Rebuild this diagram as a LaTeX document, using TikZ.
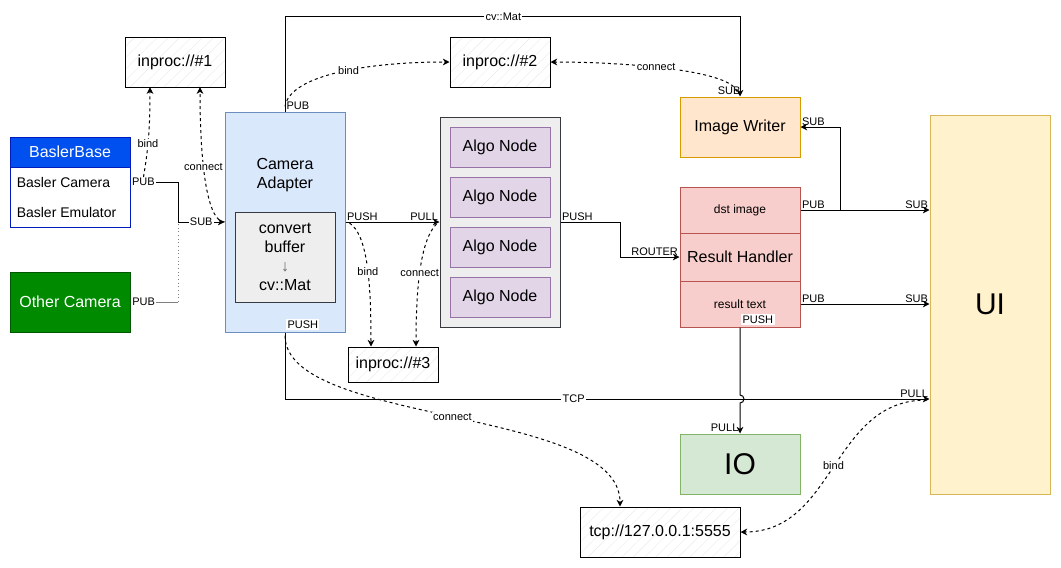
\documentclass[tikz,border=0pt]{standalone}
\usepackage{fontspec}
\setmainfont{Liberation Sans}
\usetikzlibrary{arrows.meta,calc,patterns.meta}

\definecolor{baslerfill}{HTML}{0050EF}
\definecolor{baslerline}{HTML}{001DBC}
\definecolor{otherfill}{HTML}{008A00}
\definecolor{otherline}{HTML}{005700}
\definecolor{adapterfill}{HTML}{DAE8FC}
\definecolor{adapterline}{HTML}{6C8EBF}
\definecolor{convfill}{HTML}{EEEEEE}
\definecolor{convline}{HTML}{36393D}
\definecolor{algofill}{HTML}{E1D5E7}
\definecolor{algoline}{HTML}{9673A6}
\definecolor{writerfill}{HTML}{FFE6CC}
\definecolor{writerline}{HTML}{D79B00}
\definecolor{resfill}{HTML}{F8CECC}
\definecolor{resline}{HTML}{B85450}
\definecolor{uifill}{HTML}{FFF2CC}
\definecolor{uiline}{HTML}{D6B656}
\definecolor{iofill}{HTML}{D5E8D4}
\definecolor{ioline}{HTML}{82B366}

\tikzset{
  box/.style={draw, line width=0.75pt, inner sep=0pt, align=center, font=\fontsize{12}{14.4}\selectfont},
  bigbox/.style={box, font=\fontsize{22.5}{27}\selectfont},
  smallbox/.style={box, font=\fontsize{9}{11}\selectfont},
  item/.style={inner sep=0pt, font=\fontsize{10.5}{12.6}\selectfont},
  inproc/.style={box, preaction={fill=white}, pattern={Lines[angle=45,distance=6pt,line width=0.3pt]}, pattern color=black!8},
  lbl/.style={inner sep=1pt, font=\fontsize{8.25}{9.9}\selectfont},
  onlbl/.style={lbl, fill=white},
  link/.style={line width=0.75pt},
  wire/.style={link, -{Stealth[length=5pt,width=5pt,inset=1.5pt]}},
  zmq/.style={line width=0.75pt, dashed, dash pattern=on 2.25pt off 2.25pt, -{Stealth[length=5pt,width=5pt,inset=1.5pt]}},
}

\begin{document}
\begin{tikzpicture}[x=0.75pt,y=0.75pt,yscale=-1,xscale=1]
\useasboundingbox (0,0) rectangle (1061,568);

%Cameras
\node[box, fill=white, draw=baslerline, minimum width=90pt, minimum height=45pt] (baslerlist) at (70,197) {};
\node[box, fill=baslerfill, draw=baslerline, text=white, minimum width=90pt, minimum height=22.5pt] (basler) at (70,152) {BaslerBase};
\node[item, anchor=west] (baslercam) at (16.5,182) {Basler Camera};
\node[item, anchor=west] (basleremu) at (16.5,212) {Basler Emulator};
\node[box, fill=otherfill, draw=otherline, text=white, minimum width=90pt, minimum height=45pt] (other) at (70,302) {Other Camera};

%Endpoints
\node[inproc, minimum width=75pt, minimum height=37.5pt] (inproc1) at (175,62) {inproc://\#1};
\node[inproc, minimum width=75pt, minimum height=37.5pt] (inproc2) at (500,62) {inproc://\#2};
\node[inproc, minimum width=67.5pt, minimum height=26.25pt] (inproc3) at (393,364.5) {inproc://\#3};
\node[inproc, minimum width=120pt, minimum height=37.5pt] (tcp) at (660,532) {tcp://127.0.0.1:5555};

%Camera Adapter
\node[box, fill=adapterfill, draw=adapterline, minimum width=90pt, minimum height=165pt] (adapter) at (285,222) {};
\node[box, draw=none] (adapterlbl) at (285,175) {Camera\\Adapter};
\node[box, fill=convfill, draw=convline, minimum width=75pt, minimum height=67.5pt] (convert) at (285,257) {convert\\buffer\\{\color{black!60}↓}\\cv::Mat};

%Algo Nodes
\node[box, fill=convfill, draw=convline, minimum width=90pt, minimum height=157.5pt] (algos) at (500,222) {};
\foreach \i/\y in {1/147,2/197,3/247,4/297}
  \node[box, fill=algofill, draw=algoline, minimum width=75pt, minimum height=30pt] (algo\i) at (500,\y) {Algo Node};

%Writer, Result Handler, IO, UI
\node[box, fill=writerfill, draw=writerline, minimum width=90pt, minimum height=45pt] (writer) at (740,127) {Image Writer};
\node[smallbox, fill=resfill, draw=resline, minimum width=90pt, minimum height=34.5pt] (dst) at (740,210) {dst image};
\node[box, fill=resfill, draw=resline, minimum width=90pt, minimum height=36pt] (handler) at (740,257) {Result Handler};
\node[smallbox, fill=resfill, draw=resline, minimum width=90pt, minimum height=34.5pt] (rtext) at (740,304) {result text};
\node[bigbox, fill=iofill, draw=ioline, minimum width=90pt, minimum height=45pt] (io) at (740,464) {IO};
\node[bigbox, fill=uifill, draw=uiline, minimum width=90pt, minimum height=284.25pt] (ui) at (990,304.5) {UI};

%Cameras -> Adapter
\coordinate (camjoin) at (178,222);
\draw[link, gray] (other.east) -- (camjoin |- other.east) node[pos=0, onlbl, anchor=west, text=black] {PUB};
\draw[link, gray, dotted] (camjoin |- other.east) -- (camjoin);
\draw[wire] (baslerlist.east |- baslercam) -| (camjoin) -- node[onlbl] {SUB} (adapter.west);
\node[onlbl, anchor=west] (baslerpub) at (baslerlist.east |- baslercam) {PUB};
\draw[zmq] ($(baslerlist.east |- baslercam)+(13,-5)$) .. controls +(5,-30) and +(0,40) .. ($(inproc1.south)+(-25,0)$) node[onlbl, pos=0.4] {bind};
\draw[zmq] (adapter.west) .. controls +(-15,0) and +(0,90) .. ($(inproc1.south)+(25,0)$) node[onlbl, pos=0.64] {connect};

%Adapter -> Image Writer
\draw[wire] (adapter.north) -- ++(0,-95) -| node[onlbl, pos=0.24] {cv::Mat} (writer.north);
\node[lbl, anchor=south west] (adapterpub) at (adapter.north) {PUB};
\node[lbl, anchor=south east] (writersub) at ($(writer.north)+(2,0)$) {SUB};
\draw[zmq] ($(adapter.north)+(0,-5)$) .. controls +(5,-32) and +(-80,0) .. (inproc2.west) node[onlbl, pos=0.55] {bind};
\draw[zmq] ($(writer.north)+(-3,-5)$) .. controls +(-7,-22) and +(70,0) .. (inproc2.east) node[onlbl, pos=0.55] {connect};

%Adapter -> Algo Nodes
\draw[wire] (adapter.east) -- (algos.west);
\node[lbl, anchor=south west] (adapterpush) at (adapter.east) {PUSH};
\node[lbl, anchor=south east] (algospull) at (algos.west) {PULL};
\draw[zmq] ($(adapter.east)+(4,1)$) .. controls +(18,12) and +(0,-65) .. ($(inproc3.north)+(-22,0)$) node[onlbl, pos=0.55] {bind};
\draw[zmq] ($(algos.west)+(-3,2)$) .. controls +(-15,15) and +(0,-65) .. ($(inproc3.north)+(23,0)$) node[onlbl, pos=0.55] {connect};

%Algo Nodes -> Result Handler
\draw[wire] (algos.east) -- ++(60,0) |- (handler.west);
\node[lbl, anchor=south west] (algospush) at (algos.east) {PUSH};
\node[lbl, anchor=south east] (router) at (handler.west) {ROUTER};

%Result Handler -> UI, Image Writer
\coordinate (dstsplit) at ($(dst.east)+(40,0)$);
\draw[wire] (dst.east) -- (ui.west |- dst.east);
\draw[wire] (dstsplit) |- (writer.east);
\draw[wire] (rtext.east) -- (ui.west |- rtext.east);
\node[lbl, anchor=south west] at (dst.east) {PUB};
\node[lbl, anchor=south east] at (ui.west |- dst.east) {SUB};
\node[lbl, anchor=south west] at (writer.east) {SUB};
\node[lbl, anchor=south west] at (rtext.east) {PUB};
\node[lbl, anchor=south east] at (ui.west |- rtext.east) {SUB};

%TCP line
\coordinate (tcprow) at (0,399);
\draw[wire] (adapter.south) -- (adapter.south |- tcprow) -- node[onlbl, pos=0.448] {TCP} (ui.west |- tcprow);
\node[lbl, anchor=south east] (uipull) at (ui.west |- tcprow) {PULL};
\node[onlbl, anchor=west] (adapterout) at ($(adapter.south)+(1,-8)$) {PUSH};

%Result Handler -> IO
\draw[wire] (rtext.south) -- ($(rtext.south |- tcprow)+(0,-4)$) arc[start angle=-90, end angle=90, radius=4] -- (io.north);
\node[onlbl, anchor=west] (rtextpush) at ($(rtext.south)+(1,-8)$) {PUSH};
\node[lbl, anchor=south east] (iopull) at (io.north) {PULL};

%tcp endpoint
\draw[zmq] ($(adapter.south)+(0,3)$) .. controls +(0,90) and +(0,-100) .. ($(tcp.north)+(-40,0)$) node[onlbl, pos=0.5] {connect};
\draw[zmq] ($(ui.west |- tcprow)+(-3,1)$) .. controls +(-95,0) and +(95,0) .. (tcp.east) node[onlbl, pos=0.5] {bind};

\end{tikzpicture}
\end{document}
